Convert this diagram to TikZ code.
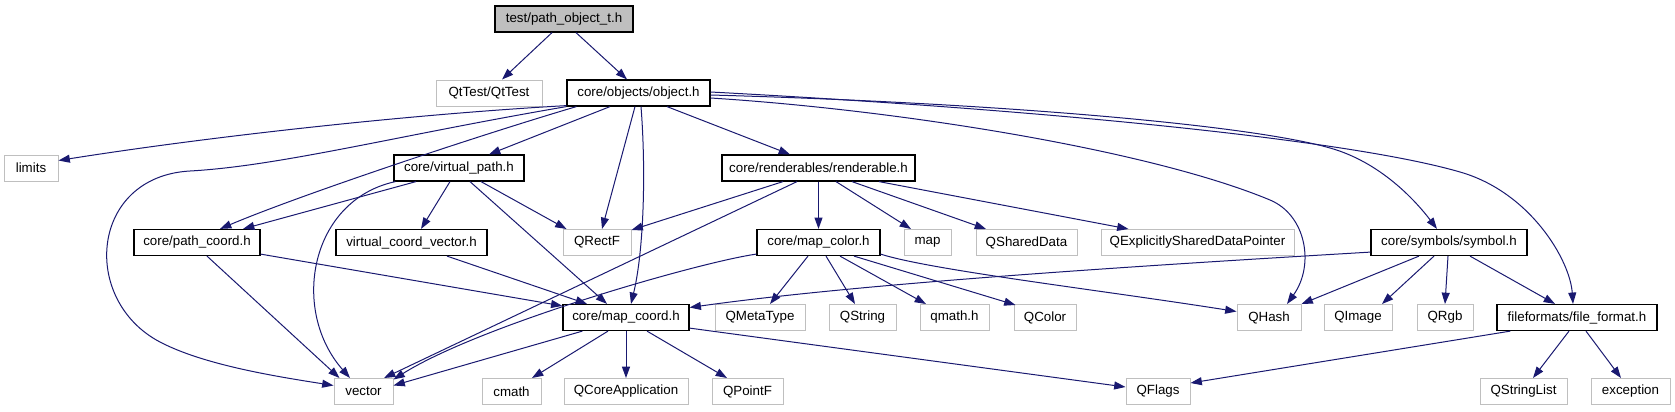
\documentclass[tikz,border=0pt]{standalone}
\usepackage{fontspec}
\setmainfont{Liberation Sans}
\usetikzlibrary{arrows.meta,calc}
\definecolor{edgec}{RGB}{25,25,112}
\definecolor{grey75}{RGB}{191,191,191}
\begin{document}
\begin{tikzpicture}[x=0.75pt,y=-0.75pt,
  box/.style={draw=black, line width=0.9pt, inner sep=0pt, minimum height=19.5pt, font=\fontsize{10pt}{12pt}\selectfont},
  ext/.style={box, draw=grey75, line width=0.75pt},
  cur/.style={box, fill=grey75},
  e/.style={draw=edgec, line width=0.75pt, -{Triangle[length=8.5pt,width=6pt]}}]
\useasboundingbox (0,0) rectangle (1675,411);
% row 1
\node[cur, minimum width=138*0.75pt] (T) at (564,19) {test/path\_object\_t.h};
% row 2
\node[ext, minimum width=106*0.75pt] (QtTest) at (489,93) {QtTest/QtTest};
\node[box, minimum width=143*0.75pt] (O) at (638.5,93) {core/objects/object.h};
% row 3
\node[ext, minimum width=54*0.75pt] (limits) at (31,168) {limits};
\node[box, minimum width=130*0.75pt] (VP) at (459,168) {core/virtual\_path.h};
\node[box, minimum width=193*0.75pt] (R) at (818.5,168) {core/renderables/renderable.h};
% row 4
\node[box, minimum width=126*0.75pt] (PC) at (197,242.5) {core/path\_coord.h};
\node[box, minimum width=151*0.75pt] (VCV) at (411.5,242.5) {virtual\_coord\_vector.h};
\node[ext, minimum width=68*0.75pt] (QRectF) at (597,242.5) {QRectF};
\node[box, minimum width=123*0.75pt] (MC) at (818.5,242.5) {core/map\_color.h};
\node[ext, minimum width=47*0.75pt] (map) at (927.5,242.5) {map};
\node[ext, minimum width=101*0.75pt] (QSD) at (1026.5,242.5) {QSharedData};
\node[ext, minimum width=193*0.75pt] (QESDP) at (1197.5,242.5) {QExplicitlySharedDataPointer};
\node[box, minimum width=156*0.75pt] (SYM) at (1449,242.5) {core/symbols/symbol.h};
% row 5
\node[box, minimum width=126*0.75pt] (MCO) at (626,317.5) {core/map\_coord.h};
\node[ext, minimum width=90*0.75pt] (QMT) at (760,317.5) {QMetaType};
\node[ext, minimum width=67*0.75pt] (QString) at (862.5,317.5) {QString};
\node[ext, minimum width=69*0.75pt] (qmath) at (954.5,317.5) {qmath.h};
\node[ext, minimum width=62*0.75pt] (QColor) at (1045,317.5) {QColor};
\node[ext, minimum width=64*0.75pt] (QHash) at (1269,317.5) {QHash};
\node[ext, minimum width=68*0.75pt] (QImage) at (1358,317.5) {QImage};
\node[ext, minimum width=56*0.75pt] (QRgb) at (1445,317.5) {QRgb};
\node[box, minimum width=160*0.75pt] (FF) at (1577,317.5) {fileformats/file\_format.h};
% row 6
\node[ext, minimum width=59*0.75pt] (vector) at (363.5,391.5) {vector};
\node[ext, minimum width=59*0.75pt] (cmath) at (511.5,391.5) {cmath};
\node[ext, minimum width=124*0.75pt] (QCA) at (626,391.5) {QCoreApplication};
\node[ext, minimum width=71*0.75pt] (QPointF) at (747.5,391.5) {QPointF};
\node[ext, minimum width=64*0.75pt] (QFlags) at (1158,391.5) {QFlags};
\node[ext, minimum width=87*0.75pt] (QSL) at (1523.5,391.5) {QStringList};
\node[ext, minimum width=79*0.75pt] (exc) at (1630.5,391.5) {exception};

% edges from T
\draw[e] ($(T.south)+(-12,0)$) -- ($(QtTest.north)+(13,0)$);
\draw[e] ($(T.south)+(12,0)$) -- ($(O.north)+(-11.5,0)$);
% edges from O
\draw[e] ($(O.south west)+(0,-1)$) .. controls (400,115) and (200,138) .. ($(limits.north east)+(0,6)$);
\draw[e] (O.south west) .. controls (400,135) and (280,166) .. (190,171)
   .. controls (90,176.5) and (80,300) .. (160,342)
   .. controls (205,365.6) and (280,377) .. ($(vector.west)+(0,-6)$);
\draw[e] ($(O.south west)+(10,0)$) .. controls (480,135) and (300,195) .. ($(PC.north)+(23,0)$);
\draw[e] ($(O.south)+(-28.5,0)$) -- ($(VP.north)+(30,0)$);
\draw[e] ($(O.south)+(-3.5,0)$) -- ($(QRectF.north)+(5,0)$);
\draw[e] ($(O.south)+(2.5,0)$) .. controls (646,170) and (644,250) .. ($(MCO.north)+(5,0)$);
\draw[e] ($(O.south)+(28.5,0)$) -- ($(R.north)+(-28.5,0)$);
\draw[e] ($(O.east)+(0,5)$) .. controls (900,110) and (1150,150) .. (1270,200)
   .. controls (1306,215) and (1315,265) .. ($(QHash.north)+(18,0)$);
\draw[e] ($(O.east)+(0,2)$) .. controls (1000,103) and (1250,125) .. (1330,148)
   .. controls (1380,162) and (1415,200) .. ($(SYM.north)+(-12,0)$);
\draw[e] ($(O.east)+(0,-1)$) .. controls (1050,110) and (1350,140) .. (1460,172)
   .. controls (1530,192) and (1570,260) .. ($(FF.north)+(-4,0)$);
% edges from VP
\draw[e] ($(VP.south)+(-43,0)$) -- ($(PC.north)+(46,0)$);
\draw[e] ($(VP.south west)+(2,0)$) .. controls (310,200) and (290,310) .. ($(vector.north)+(-13.5,0)$);
\draw[e] ($(VP.south)+(-9,0)$) -- ($(VCV.north)+(9.5,0)$);
\draw[e] ($(VP.south)+(11,0)$) -- ($(MCO.north)+(-19,0)$);
\draw[e] ($(VP.south)+(22,0)$) -- ($(QRectF.north west)+(4,0)$);
% edges from R
\draw[e] ($(R.south)+(-35.5,0)$) -- ($(QRectF.north east)+(0,1)$);
\draw[e] ($(R.south)+(-21.5,0)$) -- ($(vector.north east)+(-9.5,0)$);
\draw[e] (R.south) -- (MC.north);
\draw[e] ($(R.south)+(17.5,0)$) -- ($(map.north)+(-16.5,0)$);
\draw[e] ($(R.south)+(33.5,0)$) -- ($(QSD.north)+(-40.5,0)$);
\draw[e] ($(R.south)+(60.5,0)$) -- ($(QESDP.north west)+(28,0)$);
% edges from PC
\draw[e] ($(PC.south east)+(0,-2)$) -- ($(MCO.north west)+(0,2)$);
\draw[e] ($(PC.south)+(10,0)$) -- ($(vector.north west)+(6,0)$);
% edge from VCV
\draw[e] ($(VCV.south)+(35.5,0)$) -- ($(MCO.north)+(-39,0)$);
% edges from MC
\draw[e] ($(MC.south west)+(0,-2)$) .. controls (700,262) and (480,325) .. ($(vector.north east)+(0,1.5)$);
\draw[e] ($(MC.south)+(-10.5,0)$) -- ($(QMT.north)+(10,0)$);
\draw[e] ($(MC.south)+(7.5,0)$) -- ($(QString.north)+(-7.5,0)$);
\draw[e] ($(MC.south)+(21.5,0)$) -- ($(qmath.north)+(-28.5,0)$);
\draw[e] ($(MC.south)+(35.5,0)$) -- ($(QColor.north west)+(2,1)$);
\draw[e] ($(MC.south east)+(0,-2)$) .. controls (930,270) and (1100,290) .. ($(QHash.west)+(0,-6)$);
% edges from MCO
\draw[e] ($(MCO.south west)+(20,0)$) -- ($(vector.east)+(0,-6)$);
\draw[e] ($(MCO.south)+(-18,0)$) -- ($(cmath.north)+(20.5,0)$);
\draw[e] (MCO.south) -- (QCA.north);
\draw[e] ($(MCO.south)+(21,0)$) -- ($(QPointF.north)+(-20.5,0)$);
\draw[e] ($(MCO.south east)+(0,-3)$) -- ($(QFlags.west)+(0,-4.5)$);
% edges from SYM
\draw[e] ($(SYM.south west)+(0,-4)$) .. controls (1100,268) and (850,285) .. ($(MCO.east)+(0,-10)$);
\draw[e] ($(SYM.south)+(-30,0)$) -- (QHash.north east);
\draw[e] ($(SYM.south)+(-15,0)$) -- ($(QImage.north)+(24,0)$);
\draw[e] ($(SYM.south)+(-1,0)$) -- (QRgb.north);
\draw[e] ($(SYM.south)+(21,0)$) -- ($(FF.north)+(-22,0)$);
% edges from FF
\draw[e] ($(FF.south west)+(14,0)$) -- ($(QFlags.north east)+(0,5)$);
\draw[e] ($(FF.south)+(-8,0)$) -- ($(QSL.north)+(9.5,0)$);
\draw[e] ($(FF.south)+(9,0)$) -- ($(exc.north)+(-9.5,0)$);
\end{tikzpicture}
\end{document}
